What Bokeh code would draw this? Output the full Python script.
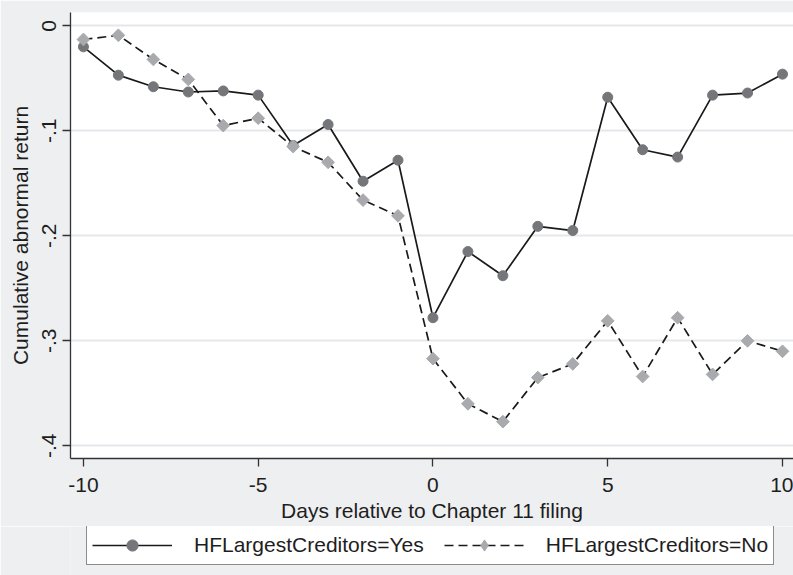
import numpy as np
from bokeh.plotting import figure
from bokeh.layouts import column
from bokeh.models import (FixedTicker, Legend, LegendItem, ColumnDataSource, Range1d)
from bokeh.embed import file_html
from bokeh.resources import INLINE

days = list(range(-10, 11))
car_yes = [-0.020, -0.047, -0.058, -0.063, -0.062, -0.066, -0.114, -0.094, -0.148, -0.128,
           -0.278, -0.215, -0.238, -0.191, -0.195, -0.068, -0.118, -0.125, -0.066, -0.064, -0.046]
car_no = [-0.013, -0.009, -0.032, -0.051, -0.095, -0.088, -0.115, -0.130, -0.166, -0.181,
          -0.317, -0.360, -0.377, -0.335, -0.322, -0.281, -0.334, -0.278, -0.332, -0.300, -0.310]
x_ticks = [-10, -5, 0, 5, 10]
x_tick_labels = ["-10", "-5", "0", "5", "10"]
y_ticks = [0, -0.1, -0.2, -0.3, -0.4]
y_tick_labels = ["0", "-.1", "-.2", "-.3", "-.4"]
series_names = ["HFLargestCreditors=Yes", "HFLargestCreditors=No"]

FONT = "Liberation Sans"
TXT = "#1e1e1e"
BG = "#eeeff1"
LINE_C = "#1a1a1a"
CIRC_C = "#74767a"
DIAM_C = "#a9aaad"

p = figure(width=793, height=526, output_backend="svg", toolbar_location=None,
           x_range=Range1d(-10.37, 10.315), y_range=Range1d(-0.4121, 0.0127),
           min_border_left=70, min_border_right=0, min_border_top=12, min_border_bottom=68)
p.border_fill_color = BG
p.background_fill_color = "white"
p.outline_line_color = None

src_yes = ColumnDataSource(dict(x=days, y=car_yes))
src_no = ColumnDataSource(dict(x=days, y=car_no))

p.line("x", "y", source=src_yes, line_color=LINE_C, line_width=1.7)
p.scatter("x", "y", source=src_yes, marker="circle", size=10,
          fill_color=CIRC_C, line_color=CIRC_C)
p.line("x", "y", source=src_no, line_color=LINE_C, line_width=1.7, line_dash="9 5")
p.scatter("x", "y", source=src_no, marker="square", size=9, angle=np.pi / 4,
          fill_color=DIAM_C, line_color=DIAM_C)

# axes
p.xaxis.ticker = FixedTicker(ticks=x_ticks)
p.xaxis.major_label_overrides = {t: s for t, s in zip(x_ticks, x_tick_labels)}
p.yaxis.ticker = FixedTicker(ticks=y_ticks)
p.yaxis.major_label_overrides = {t: s for t, s in zip(y_ticks, y_tick_labels)}
p.yaxis.major_label_orientation = "vertical"
for ax in (p.xaxis, p.yaxis):
    ax.axis_line_color = "#333333"
    ax.axis_line_width = 1.3
    ax.major_tick_line_color = "#333333"
    ax.major_tick_line_width = 1.3
    ax.major_tick_out = 8
    ax.major_tick_in = 0
    ax.minor_tick_line_color = None
    ax.major_label_text_font = FONT
    ax.major_label_text_font_size = "21px"
    ax.major_label_text_color = TXT
    ax.axis_label_text_font = FONT
    ax.axis_label_text_font_size = "21px"
    ax.axis_label_text_font_style = "normal"
    ax.axis_label_text_color = TXT
p.xaxis.axis_label = "Days relative to Chapter 11 filing"
p.yaxis.axis_label = "Cumulative abnormal return"
p.xaxis.major_label_standoff = 11
p.xaxis.axis_label_standoff = 4
p.yaxis.major_label_standoff = 6
p.yaxis.axis_label_standoff = 8

p.xgrid.grid_line_color = None
p.ygrid.grid_line_color = "#e6e7ea"
p.ygrid.grid_line_width = 2

# legend strip below the chart (its series renderers lie outside its view,
# only the legend box is visible)
lf = figure(width=793, height=49, output_backend="svg", toolbar_location=None,
            x_axis_type=None, y_axis_type=None,
            x_range=Range1d(-10.37, 10.315), y_range=Range1d(1, 2),
            min_border_left=70, min_border_right=0, min_border_top=0, min_border_bottom=0)
lf.border_fill_color = BG
lf.background_fill_color = BG
lf.outline_line_color = None
lf.xgrid.grid_line_color = None
lf.ygrid.grid_line_color = None
ll1 = lf.line("x", "y", source=src_yes, line_color=LINE_C, line_width=1.7)
lm1 = lf.scatter("x", "y", source=src_yes, marker="circle", fill_color=CIRC_C, line_color=CIRC_C)
ll2 = lf.line("x", "y", source=src_no, line_color=LINE_C, line_width=1.7, line_dash="9 5")
lm2 = lf.scatter("x", "y", source=src_no, marker="diamond", fill_color=DIAM_C, line_color=DIAM_C)

legend = Legend(items=[LegendItem(label=series_names[0], renderers=[ll1, lm1]),
                       LegendItem(label=series_names[1], renderers=[ll2, lm2])],
                orientation="horizontal", location=(16, 10))
legend.label_text_font = FONT
legend.label_text_font_size = "21px"
legend.label_text_color = TXT
legend.border_line_color = "#1a1a1a"
legend.border_line_width = 1
legend.background_fill_color = "white"
legend.background_fill_alpha = 1
legend.glyph_width = 80
legend.glyph_height = 28
legend.label_standoff = 22
legend.spacing = 20
legend.padding = 5
legend.margin = 0
lf.add_layout(legend, "center")

layout = column(p, lf, spacing=0)
open("out.html", "w").write(file_html(layout, INLINE))
